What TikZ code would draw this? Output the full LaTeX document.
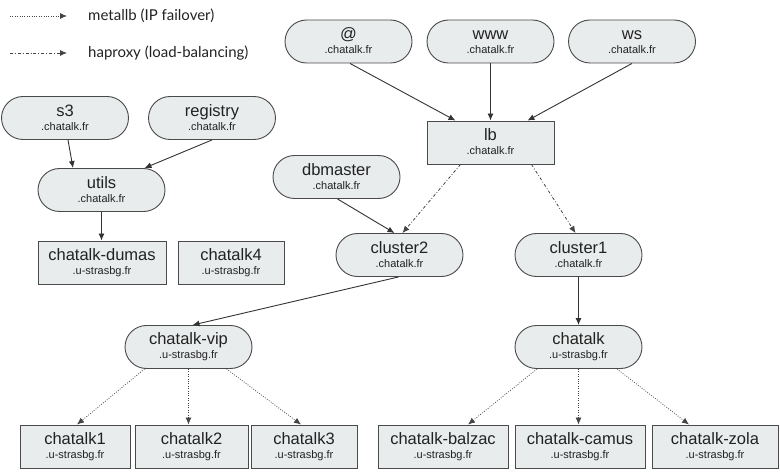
\documentclass[tikz,border=0pt]{standalone}
\usepackage{fontspec}
\setmainfont{Liberation Sans}
\newfontfamily\legfont{Lato}
\usetikzlibrary{shapes.misc,arrows.meta,calc}
\definecolor{nfill}{HTML}{E9ECEC}
\definecolor{nborder}{HTML}{4A4A4A}
\definecolor{ecol}{HTML}{333333}
\definecolor{dcol}{HTML}{444444}
\definecolor{tcol}{HTML}{222222}
\newcommand\mfont{\fontsize{16.5}{18}\selectfont}
\newcommand\sfont{\fontsize{11}{12}\selectfont}
\newcommand\twol[2]{\vbox{\offinterlineskip\halign{\hfil##\hfil\cr
  \vrule height12pt depth4pt width0pt\mfont #1\cr
  \vrule height10pt depth1pt width0pt\sfont #2\cr}}}
\tikzset{
  base/.style={draw=nborder,fill=nfill,line width=0.9pt,inner sep=0pt,text=tcol,minimum height=43pt},
  rnode/.style={base,rounded rectangle,minimum width=127pt},
  bnode/.style={base,rectangle},
  solidarr/.style={draw=ecol,line width=0.9pt,-{Latex[length=7pt,width=6pt]}},
  dotarr/.style={draw=dcol,line width=0.8pt,dash pattern=on 0.8pt off 1.6pt,-{Latex[length=7pt,width=6pt]}},
  dasharr/.style={draw=dcol,line width=0.8pt,dash pattern=on 3pt off 2pt on 0.8pt off 2pt,-{Latex[length=7pt,width=6pt]}},
  legtext/.style={anchor=west,inner sep=0pt,text=tcol,font=\legfont\fontsize{15}{17}\selectfont},
}
\begin{document}
\begin{tikzpicture}[x=1pt,y=-1pt]
\useasboundingbox (0,0) rectangle (780,476);
% legend
\coordinate (l1a) at (10,16); \coordinate (l1b) at (67,16);
\coordinate (l2a) at (10,53); \coordinate (l2b) at (67,53);
\draw[dotarr] (l1a) -- (l1b);
\draw[dasharr] (l2a) -- (l2b);
\node[legtext] (lt1) at (88,16) {metallb (IP failover)};
\node[legtext] (lt2) at (88,53) {haproxy (load-balancing)};
% nodes
\node[rnode] (s3) at (65,118) {\twol{s3}{.chatalk.fr}};
\node[rnode] (registry) at (212,118) {\twol{registry}{.chatalk.fr}};
\node[rnode] (utils) at (101.5,190) {\twol{utils}{.chatalk.fr}};
\node[bnode,minimum width=128pt] (dumas) at (102,262.5) {\twol{chatalk-dumas}{.u-strasbg.fr}};
\node[bnode,minimum width=106pt] (c4) at (231,262.5) {\twol{chatalk4}{.u-strasbg.fr}};
\node[rnode] (at) at (348.5,41.5) {\twol{@}{.chatalk.fr}};
\node[rnode] (www) at (490.5,41.5) {\twol{www}{.chatalk.fr}};
\node[rnode] (ws) at (632,41.5) {\twol{ws}{.chatalk.fr}};
\node[bnode,minimum width=127pt] (lb) at (490.5,142.5) {\twol{lb}{.chatalk.fr}};
\node[rnode] (dbmaster) at (336.5,177) {\twol{dbmaster}{.chatalk.fr}};
\node[rnode] (cluster2) at (399.5,255) {\twol{cluster2}{.chatalk.fr}};
\node[rnode] (cluster1) at (578.5,255) {\twol{cluster1}{.chatalk.fr}};
\node[rnode] (vip) at (188.5,347) {\twol{chatalk-vip}{.u-strasbg.fr}};
\node[rnode] (chatalk) at (578.5,347) {\twol{chatalk}{.u-strasbg.fr}};
\node[bnode,minimum width=110pt] (c1) at (75,446.5) {\twol{chatalk1}{.u-strasbg.fr}};
\node[bnode,minimum width=113pt] (c2) at (191.5,446.5) {\twol{chatalk2}{.u-strasbg.fr}};
\node[bnode,minimum width=106pt] (c3) at (304,446.5) {\twol{chatalk3}{.u-strasbg.fr}};
\node[bnode,minimum width=130pt] (balzac) at (443,446.5) {\twol{chatalk-balzac}{.u-strasbg.fr}};
\node[bnode,minimum width=130pt] (camus) at (580,446.5) {\twol{chatalk-camus}{.u-strasbg.fr}};
\node[bnode,minimum width=126pt] (zola) at (715,446.5) {\twol{chatalk-zola}{.u-strasbg.fr}};
% edges
\draw[solidarr] ($(s3.south)+(3,0)$) -- ($(utils.north)+(-28.5,0)$);
\draw[solidarr] (registry.south) -- ($(utils.north)+(43,0)$);
\draw[solidarr] (utils.south) -- (utils.south |- dumas.north);
\draw[solidarr] ($(at.south)+(1.5,0)$) -- ($(lb.north)+(-35,0)$);
\draw[solidarr] (www.south) -- (lb.north);
\draw[solidarr] (ws.south) -- ($(lb.north)+(37,0)$);
\draw[dasharr] ($(lb.south)+(-30,0)$) -- ($(cluster2.north)+(3,0)$);
\draw[dasharr] ($(lb.south)+(41,0)$) -- ($(cluster1.north)+(-3,0)$);
\draw[solidarr] ($(dbmaster.south)+(1,0)$) -- ($(cluster2.north)+(-5,0)$);
\draw[solidarr] ($(cluster2.south)+(-1,0)$) -- ($(vip.north)+(4,0)$);
\draw[solidarr] (cluster1.south) -- (chatalk.north);
\draw[dotarr] ($(vip.south)+(-44,0)$) -- ($(c1.north)+(2,0)$);
\draw[dotarr] (vip.south) -- (vip.south |- c2.north);
\draw[dotarr] ($(vip.south)+(38,0)$) -- ($(c3.north)+(-3,0)$);
\draw[dotarr] ($(chatalk.south)+(-41.5,0)$) -- ($(balzac.north)+(25,0)$);
\draw[dotarr] (chatalk.south) -- (chatalk.south |- camus.north);
\draw[dotarr] ($(chatalk.south)+(38.5,0)$) -- ($(zola.north)+(-26,0)$);
\end{tikzpicture}
\end{document}
